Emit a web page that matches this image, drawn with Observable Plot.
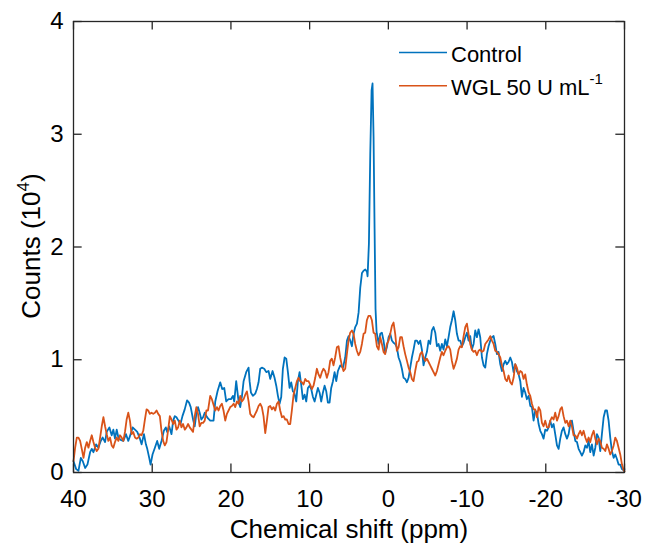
<!DOCTYPE html>
<html>
<head>
<meta charset="utf-8">
<script src="https://cdn.jsdelivr.net/npm/d3@7"></script>
<script src="https://cdn.jsdelivr.net/npm/@observablehq/plot@0.6"></script>
<style>
  html, body { margin: 0; padding: 0; background: #fff; }
  #chart svg { display: block; }
</style>
</head>
<body>
<div id="chart"></div>
<script>
// ---- Data ----
const xTicks = [40, 30, 20, 10, 0, -10, -20, -30];
const yTicks = [0, 1, 2, 3, 4];
const seriesNames = ["Control", "WGL 50 U mL"];

// Control: [chemical shift (ppm), counts (10^4)]
const control = [
  [40,0.10],[39.66,0.03],[39.37,0.015],[39.07,0.13],[38.82,0.10],[38.52,0.04],[38.23,0.07],[37.89,0.18],
  [37.68,0.21],[37.47,0.18],[37.13,0.25],[36.84,0.22],[36.54,0.28],[36.29,0.31],[35.99,0.27],[35.78,0.36],
  [35.44,0.40],[35.15,0.33],[34.94,0.38],[34.73,0.30],[34.51,0.38],[34.30,0.31],[34.01,0.29],[33.67,0.28],
  [33.33,0.34],[33.04,0.28],[32.74,0.34],[32.49,0.40],[32.19,0.38],[31.90,0.36],[31.56,0.30],[31.35,0.25],
  [31.05,0.34],[30.80,0.25],[30.63,0.21],[30.38,0.13],[30.21,0.07],[29.96,0.16],[29.66,0.22],[29.37,0.28],
  [29.11,0.21],[28.82,0.28],[28.52,0.37],[28.27,0.40],[28.10,0.36],[27.85,0.41],[27.55,0.34],[27.34,0.46],
  [27.13,0.50],[26.92,0.49],[26.67,0.46],[26.41,0.43],[26.16,0.50],[25.87,0.56],[25.57,0.64],[25.32,0.62],
  [25.11,0.58],[24.81,0.47],[24.60,0.41],[24.39,0.52],[24.18,0.58],[23.97,0.53],[23.76,0.47],[23.54,0.49],
  [23.33,0.53],[23.12,0.50],[22.91,0.48],
  [22.63,0.46],[22.21,0.46],[21.99,0.63],[21.70,0.72],[21.36,0.80],[21.11,0.74],[20.85,0.75],[20.60,0.63],
  [20.30,0.65],[20.00,0.65],[19.75,0.68],[19.58,0.63],[19.33,0.81],[19.03,0.63],[18.82,0.58],[18.61,0.67],
  [18.39,0.81],[18.06,0.89],[17.76,0.93],[17.63,0.81],[17.46,0.71],[17.21,0.68],[16.91,0.70],[16.70,0.74],
  [16.49,0.80],[16.28,0.92],[16.07,0.93],[15.77,0.92],[15.51,0.89],[15.22,0.90],[15.01,0.83],[14.71,0.90],
  [14.46,0.84],[14.24,0.77],[14.03,0.68],[13.82,0.61],[13.61,0.67],[13.40,0.92],[13.18,1.02],[12.97,1.01],
  [12.76,0.89],[12.55,0.75],[12.34,0.80],[12.13,0.72],[11.96,0.71],[11.70,0.63],[11.49,0.81],[11.28,0.89],
  [11.07,0.78],[10.86,0.65],[10.64,0.69],[10.43,0.63],[10.22,0.75],[10.01,0.77],[9.80,0.74],[9.58,0.67],
  [9.37,0.63],[9.16,0.69],[8.95,0.75],[8.74,0.71],[8.53,0.63],[8.31,0.71],[8.10,0.77],[7.89,0.72],
  [7.68,0.62],[7.47,0.62],[7.26,0.75],[7.04,0.81],[6.83,0.89],[6.62,0.81],[6.41,0.90],[6.11,0.95],
  [5.77,0.93],[5.48,1.02],[5.26,1.17],[5.05,1.21],[4.84,1.17],[4.63,1.12],[4.42,1.23],[4.21,1.29],
  [3.99,1.32],[3.78,1.42],
  [3.57,1.64],[3.35,1.77],[3.15,1.79],[2.93,1.80],[2.72,1.78],[2.64,1.74],[2.47,2.03],[2.30,2.82],
  [2.13,3.39],[2.01,3.45],[1.88,2.98],[1.75,2.16],[1.63,1.45],[1.50,1.25],
  [1.24,1.14],[1.03,1.23],[0.82,1.24],[0.61,1.17],[0.40,1.06],[0.19,1.11],[-0.03,1.20],[-0.24,1.23],
  [-0.45,1.17],[-0.66,1.15],[-0.87,1.14],[-1.08,1.11],[-1.30,1.02],[-1.51,0.98],[-1.72,0.92],[-1.93,0.84],
  [-2.14,0.83],[-2.36,0.80],[-2.57,0.84],[-2.78,0.93],[-2.99,1.02],[-3.20,1.09],[-3.41,1.17],[-3.63,1.17],
  [-3.84,1.14],[-4.05,1.17],[-4.26,1.09],[-4.47,0.95],[-4.69,1.02],[-4.90,1.07],[-5.11,1.17],[-5.32,1.14],
  [-5.53,1.26],[-5.74,1.29],[-5.96,1.24],[-6.17,1.12],[-6.38,1.14],[-6.59,1.08],[-6.80,1.14],[-7.01,1.09],
  [-7.23,1.18],[-7.44,1.12],[-7.65,1.20],[-7.86,1.29],[-8.07,1.35],[-8.29,1.43],[-8.50,1.35],[-8.71,1.23],
  [-8.92,1.17],[-9.13,1.17],[-9.34,1.12],[-9.56,1.15],[-9.77,1.20],[-9.98,1.24],[-10.19,1.17],[-10.40,1.21],
  [-10.61,1.09],[-10.83,1.14],[-11.04,1.26],[-11.25,1.20],[-11.46,1.27],[-11.67,1.20],[-11.89,1.02],[-12.10,0.95],
  [-12.31,0.93],[-12.52,1.05],[-12.73,1.12],[-12.95,1.17],[-13.16,1.20],[-13.37,1.21],[-13.58,1.14],[-13.79,1.05],
  [-14.00,1.07],[-14.22,0.96],[-14.43,0.90],[-14.64,0.96],[-14.85,0.99],[-15.06,0.96],[-15.27,0.98],[-15.49,1.02],
  [-15.70,0.98],[-15.91,0.89],[-16.12,0.96],[-16.33,0.90],[-16.55,0.87],[-16.76,0.81],[-16.97,0.67],[-17.18,0.75],
  [-17.39,0.71],[-17.60,0.65],[-17.82,0.68],[-18.03,0.59],[-18.24,0.58],[-18.45,0.46],[-18.66,0.55],[-18.88,0.53],
  [-19.09,0.43],[-19.30,0.37],[-19.51,0.34],[-19.72,0.30],[-19.93,0.38],[-20.15,0.37],[-20.36,0.40],[-20.57,0.46],
  [-20.78,0.40],[-20.99,0.43],[-21.20,0.34],[-21.42,0.24],[-21.63,0.21],[-21.84,0.30],[-22.05,0.37],[-22.26,0.40],
  [-22.48,0.34],[-22.69,0.30],[-22.90,0.34],[-23.11,0.43],[-23.32,0.46],[-23.53,0.37],[-23.75,0.28],[-23.96,0.27],
  [-24.17,0.21],[-24.38,0.18],[-24.59,0.15],[-24.80,0.18],[-25.02,0.24],[-25.23,0.22],[-25.44,0.28],[-25.65,0.18],
  [-25.86,0.25],[-26.08,0.15],[-26.29,0.22],[-26.50,0.34],[-26.71,0.31],[-26.92,0.19],[-27.13,0.34],[-27.35,0.49],
  [-27.56,0.55],[-27.77,0.55],[-27.98,0.46],[-28.19,0.31],[-28.40,0.19],[-28.62,0.13],[-28.83,0.16],[-29.04,0.12],
  [-29.25,0.07],[-29.46,0.07],[-29.68,0.03],[-29.89,0.02],[-30,0.03]
];

// WGL 50 U mL-1: [chemical shift (ppm), counts (10^4)]
const wgl = [
  [40.00,0.10],[39.79,0.22],[39.58,0.31],[39.37,0.31],[39.16,0.28],[38.95,0.21],[38.73,0.13],[38.52,0.22],
  [38.31,0.27],[38.10,0.22],[37.89,0.28],[37.68,0.33],[37.47,0.27],[37.26,0.22],[37.05,0.19],[36.84,0.21],
  [36.62,0.31],[36.41,0.41],[36.20,0.49],[35.99,0.41],[35.78,0.34],[35.57,0.28],[35.36,0.31],[35.15,0.24],
  [34.94,0.22],[34.73,0.27],[34.51,0.31],[34.30,0.28],[34.09,0.33],[33.88,0.31],[33.67,0.28],[33.46,0.36],
  [33.25,0.47],[33.04,0.53],[32.83,0.46],[32.62,0.34],[32.41,0.36],[32.19,0.31],[31.98,0.30],[31.77,0.31],
  [31.56,0.34],[31.35,0.33],[31.14,0.37],[30.93,0.47],[30.72,0.56],[30.51,0.55],[30.30,0.52],[30.08,0.53],
  [29.87,0.52],[29.66,0.53],[29.45,0.55],[29.24,0.52],[29.03,0.50],[28.82,0.37],[28.61,0.28],[28.40,0.24],
  [28.19,0.27],[27.97,0.38],[27.76,0.50],[27.55,0.47],[27.34,0.43],[27.13,0.46],[26.92,0.38],[26.71,0.40],
  [26.50,0.46],[26.29,0.40],[26.08,0.43],[25.86,0.38],[25.65,0.40],[25.44,0.43],[25.23,0.40],[25.02,0.38],
  [24.81,0.36],[24.60,0.50],[24.39,0.58],[24.18,0.52],[23.97,0.41],[23.76,0.44],[23.54,0.44],[23.33,0.46],
  [23.12,0.55],[22.91,0.55],
  [22.63,0.68],[22.42,0.65],[22.21,0.60],[21.99,0.55],[21.78,0.58],[21.57,0.55],[21.36,0.59],[21.15,0.61],
  [20.94,0.55],[20.72,0.46],[20.51,0.52],[20.30,0.55],[20.09,0.58],[19.88,0.59],[19.66,0.61],[19.45,0.58],
  [19.24,0.63],[19.03,0.61],[18.82,0.68],[18.61,0.63],[18.39,0.65],[18.18,0.69],[17.97,0.72],[17.76,0.63],
  [17.55,0.52],[17.34,0.50],[17.12,0.49],[16.91,0.52],[16.70,0.55],[16.49,0.59],[16.28,0.61],[16.07,0.58],
  [15.86,0.50],[15.64,0.35],[15.43,0.46],[15.22,0.58],[15.01,0.59],[14.80,0.56],[14.58,0.58],[14.37,0.55],
  [14.16,0.61],[13.95,0.63],[13.74,0.55],[13.52,0.49],[13.31,0.50],[13.10,0.47],[12.89,0.47],[12.68,0.43],
  [12.47,0.43],[12.26,0.55],[12.04,0.69],[11.83,0.75],[11.62,0.81],[11.41,0.84],[11.20,0.81],[10.99,0.80],
  [10.78,0.78],[10.56,0.83],[10.35,0.81],[10.14,0.81],[9.93,0.78],[9.72,0.74],[9.51,0.77],[9.29,0.84],
  [9.08,0.92],[8.87,0.87],[8.66,0.84],[8.45,0.89],[8.24,0.92],[8.03,0.90],[7.81,0.84],[7.60,0.89],
  [7.39,0.99],[7.18,1.01],[6.97,0.95],[6.76,1.02],[6.54,1.11],[6.33,1.12],[6.12,1.02],[5.91,0.95],
  [5.70,0.90],[5.48,0.92],
  [5.27,1.05],[5.06,1.17],[4.85,1.24],[4.63,1.26],[4.42,1.23],[4.21,1.14],[4.00,1.08],[3.79,1.04],
  [3.57,1.07],[3.36,1.14],[3.15,1.23],[2.94,1.24],[2.73,1.35],[2.52,1.39],[2.30,1.39],[2.09,1.35],
  [1.88,1.24],[1.67,1.23],[1.46,1.12],[1.24,1.09],[1.03,1.20],[0.82,1.14],[0.61,1.07],[0.40,1.05],
  [0.19,1.14],[-0.03,1.17],[-0.24,1.23],[-0.45,1.30],[-0.66,1.33],[-0.87,1.23],[-1.08,1.08],[-1.30,1.11],
  [-1.51,1.20],[-1.72,1.20],[-1.93,1.12],[-2.14,1.05],[-2.36,0.99],[-2.57,0.93],[-2.78,0.89],[-2.99,0.83],
  [-3.20,0.81],[-3.41,0.90],[-3.63,0.98],[-3.84,0.99],[-4.05,1.05],[-4.26,1.07],[-4.47,1.02],[-4.69,0.99],
  [-4.90,1.01],[-5.11,0.98],[-5.32,0.95],[-5.53,0.92],[-5.74,0.89],[-5.96,0.86],[-6.17,0.90],[-6.38,0.96],
  [-6.59,1.02],[-6.80,1.07],[-7.01,1.04],[-7.23,1.08],[-7.44,1.11],[-7.65,1.12],[-7.86,1.09],[-8.07,0.99],
  [-8.29,0.92],[-8.50,0.96],[-8.71,1.01],[-8.92,1.09],[-9.13,1.12],[-9.34,1.11],[-9.56,1.21],[-9.77,1.29],
  [-9.98,1.32],[-10.19,1.23],[-10.40,1.14],[-10.61,1.09],[-10.83,1.07],[-11.04,1.08],[-11.25,1.04],[-11.46,1.08],
  [-11.67,1.09],[-11.89,1.07],[-12.10,1.08],
  [-12.31,1.14],[-12.52,1.16],[-12.73,1.18],[-12.95,1.21],[-13.16,1.17],[-13.37,1.14],[-13.58,1.08],[-13.79,1.07],
  [-14.00,1.05],[-14.22,1.02],[-14.43,0.95],[-14.64,0.90],[-14.85,0.83],[-15.06,0.81],[-15.27,0.86],[-15.49,0.80],
  [-15.70,0.78],[-15.91,0.84],[-16.12,0.96],[-16.33,0.93],[-16.55,0.87],[-16.76,0.90],[-16.97,0.89],[-17.18,0.83],
  [-17.39,0.87],[-17.60,0.78],[-17.82,0.71],[-18.03,0.68],[-18.24,0.61],[-18.45,0.56],[-18.66,0.56],[-18.88,0.49],
  [-19.09,0.58],[-19.30,0.55],[-19.51,0.44],[-19.72,0.41],[-19.93,0.46],[-20.15,0.40],[-20.36,0.40],[-20.57,0.46],
  [-20.78,0.49],[-20.99,0.47],[-21.20,0.53],[-21.42,0.46],[-21.63,0.50],[-21.84,0.56],[-22.05,0.58],[-22.26,0.50],
  [-22.48,0.44],[-22.69,0.46],[-22.90,0.41],[-23.11,0.46],[-23.32,0.41],[-23.53,0.33],[-23.75,0.33],[-23.96,0.30],
  [-24.17,0.34],[-24.38,0.37],[-24.59,0.33],[-24.80,0.37],[-25.02,0.31],[-25.23,0.27],[-25.44,0.31],[-25.65,0.27],
  [-25.86,0.33],[-26.08,0.37],[-26.29,0.30],[-26.50,0.25],[-26.71,0.30],[-26.92,0.28],[-27.13,0.22],[-27.35,0.21],
  [-27.56,0.19],[-27.77,0.25],[-27.98,0.21],[-28.19,0.16],[-28.40,0.19],[-28.62,0.24],[-28.83,0.31],[-29.04,0.28],
  [-29.25,0.22],[-29.46,0.16],[-29.68,0.07],[-29.89,0.02],[-30,0.01]
];

// ---- Chart ----
const axisColor = "#262626";
const blue = "#0072BD";
const orange = "#D95319";
const font = "'Liberation Sans', Arial, Helvetica, sans-serif";

const plot = Plot.plot({
  width: 646,
  height: 545,
  marginLeft: 73,
  marginRight: 22,
  marginTop: 21,
  marginBottom: 73,
  x: {domain: [40, -30]},
  y: {domain: [0, 4]},
  style: {fontFamily: font, color: axisColor, background: "#fff", overflow: "visible"},
  marks: [
    Plot.line(control, {x: d => d[0], y: d => d[1], stroke: blue, strokeWidth: 1.8}),
    Plot.line(wgl, {x: d => d[0], y: d => d[1], stroke: orange, strokeWidth: 1.8}),
    // inward ticks on all four sides (box on)
    Plot.ruleX(xTicks, {x: d => d, y1: 0, y2: 0.075, stroke: axisColor, strokeWidth: 1.3}),
    Plot.ruleX(xTicks, {x: d => d, y1: 4, y2: 3.925, stroke: axisColor, strokeWidth: 1.3}),
    Plot.ruleY(yTicks, {y: d => d, x1: 40, x2: 38.9, stroke: axisColor, strokeWidth: 1.3}),
    Plot.ruleY(yTicks, {y: d => d, x1: -30, x2: -28.9, stroke: axisColor, strokeWidth: 1.3}),
    Plot.frame({stroke: axisColor, strokeWidth: 1.3}),
    Plot.axisX({ticks: xTicks, tickSize: 0, tickPadding: 17, fontSize: 24, tickFormat: d => String(d), label: null, fill: "#000"}),
    Plot.axisY({ticks: yTicks, tickSize: 0, tickPadding: 10, fontSize: 24, tickFormat: d => String(d), label: null, fill: "#000"})
  ]
});

const svg = d3.select(plot);

// Axis titles
svg.append("text")
  .attr("x", 349).attr("y", 538)
  .attr("text-anchor", "middle")
  .attr("font-family", font).attr("font-size", 26).attr("fill", "#000")
  .text("Chemical shift (ppm)");

const yl = svg.append("text")
  .attr("transform", "translate(40,246) rotate(-90)")
  .attr("text-anchor", "middle")
  .attr("font-family", font).attr("font-size", 26).attr("fill", "#000");
yl.append("tspan").text("Counts (10");
yl.append("tspan").attr("font-size", 17).attr("dy", -11).text("4");
yl.append("tspan").attr("dy", 11).text(")");

// Legend
const lg = svg.append("g")
  .attr("font-family", font).attr("font-size", 22).attr("fill", "#000")
  .attr("text-anchor", "start");
lg.append("line").attr("x1", 399).attr("x2", 447).attr("y1", 52.5).attr("y2", 52.5)
  .attr("stroke", blue).attr("stroke-width", 1.5);
lg.append("text").attr("x", 451).attr("y", 61.5).attr("text-anchor", "start").text(seriesNames[0]);
lg.append("line").attr("x1", 399).attr("x2", 447).attr("y1", 85.7).attr("y2", 85.7)
  .attr("stroke", orange).attr("stroke-width", 1.5);
const t2 = lg.append("text").attr("x", 451).attr("y", 95).attr("text-anchor", "start");
t2.append("tspan").text(seriesNames[1]);
t2.append("tspan").attr("font-size", 15).attr("dy", -11).text("-1");

document.getElementById("chart").appendChild(plot);
</script>
</body>
</html>
